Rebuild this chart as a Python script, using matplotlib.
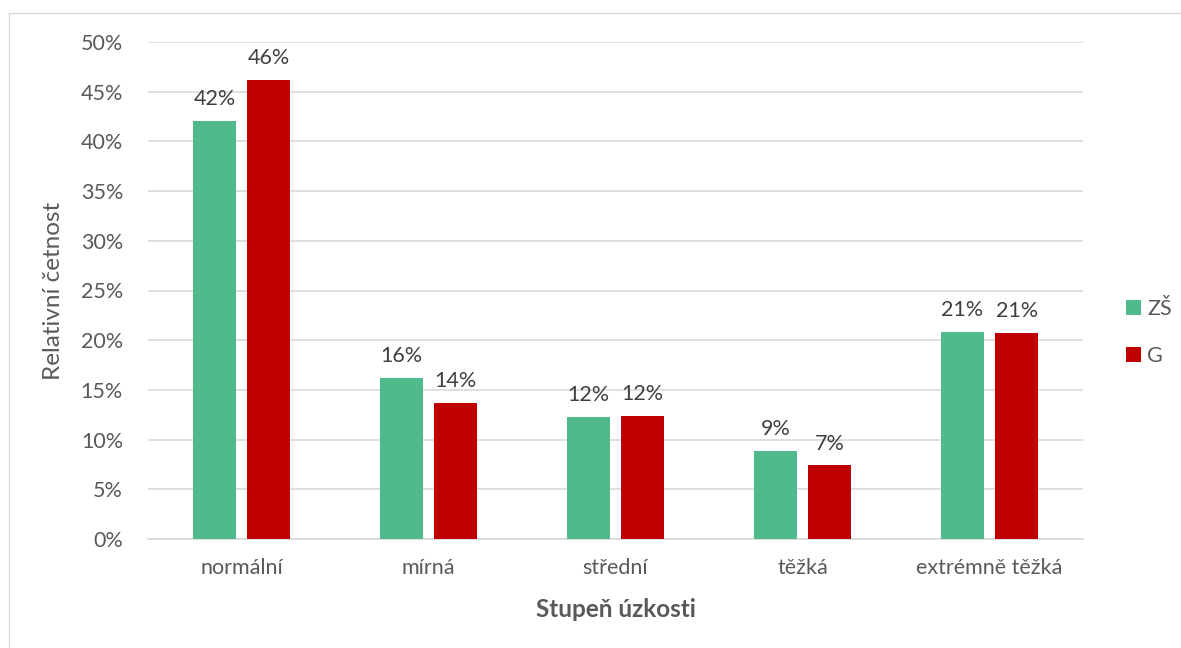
import numpy as np
import matplotlib.pyplot as plt
from matplotlib.lines import Line2D

plt.rcParams['font.family'] = ['Lato', 'DejaVu Sans']

# Data
categories = ["normální", "mírná", "střední", "těžká", "extrémně těžká"]
zs = [42.05, 16.2, 12.27, 8.9, 20.8]
g = [46.2, 13.65, 12.34, 7.4, 20.77]
zs_labels = ["42%", "16%", "12%", "9%", "21%"]
g_labels = ["46%", "14%", "12%", "7%", "21%"]

col_zs = "#4fba8c"
col_g = "#c00000"
txt = "#595959"

fig = plt.figure(figsize=(11.81, 6.48), dpi=100)
ax = fig.add_axes([148/1181, 1 - 539/648, (1083-148)/1181, (539-42)/648])

# chart frame (only top and left edges visible)
fx, fy = 8.5/1181, 1 - 12.5/648
fig.lines.append(Line2D([fx, 1], [fy, fy], transform=fig.transFigure, color="#d9d9d9", lw=1))
fig.lines.append(Line2D([fx, fx], [0, fy], transform=fig.transFigure, color="#d9d9d9", lw=1))

x = np.arange(len(categories))
w = 0.23
off = 0.145
b1 = ax.bar(x - off, zs, w, color=col_zs, label="ZŠ", zorder=3)
b2 = ax.bar(x + off, g, w, color=col_g, label="G", zorder=3)

for rect, lab in zip(b1, zs_labels):
    ax.text(rect.get_x() + rect.get_width()/2, rect.get_height() + 1.2, lab,
            ha="center", va="bottom", fontsize=15.5, color="#404040")
for rect, lab in zip(b2, g_labels):
    ax.text(rect.get_x() + rect.get_width()/2, rect.get_height() + 1.2, lab,
            ha="center", va="bottom", fontsize=15.5, color="#404040")

ax.set_xlim(-0.5, 4.5)
ax.set_ylim(0, 50)
ax.set_yticks(np.arange(0, 51, 5))
ax.set_yticklabels([f"{v}%" for v in range(0, 51, 5)])
ax.set_xticks(x)
ax.set_xticklabels(categories)
ax.tick_params(axis="both", length=0, labelsize=15.5, labelcolor=txt)
ax.tick_params(axis="x", pad=14)
ax.tick_params(axis="y", pad=18)
ax.grid(axis="y", color="#d9d9d9", linewidth=1.2, zorder=0)
for s in ["top", "right", "left"]:
    ax.spines[s].set_visible(False)
ax.spines["bottom"].set_color("#d9d9d9")
ax.spines["bottom"].set_linewidth(1.2)

ax.set_xlabel("Stupeň úzkosti", fontsize=17.5, fontweight="bold", color=txt, labelpad=14)
ax.set_ylabel("Relativní četnost", fontsize=17.5, color=txt, labelpad=12)

ax.legend(loc="center left", bbox_to_anchor=(1.025, 0.415), frameon=False, fontsize=15.5,
          labelcolor=txt, handlelength=0.7, handleheight=0.7, handletextpad=0.3, labelspacing=1.25)

fig.savefig("out.png", dpi=100)
